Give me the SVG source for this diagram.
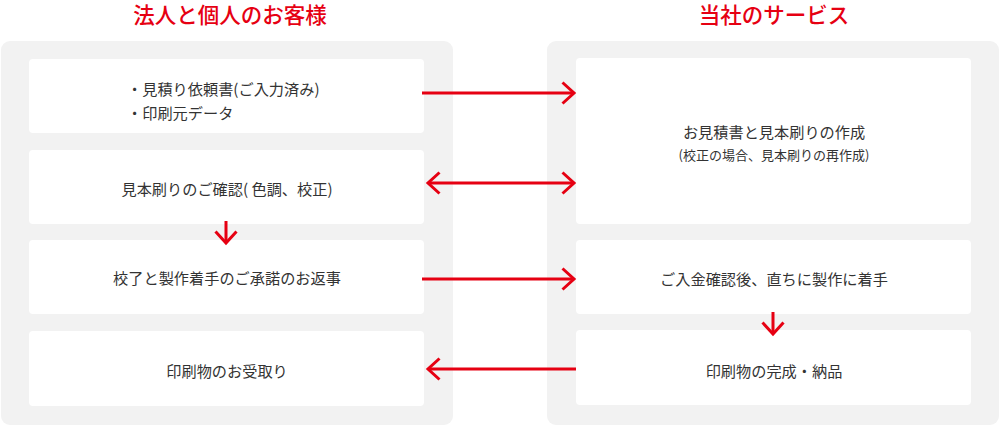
<svg xmlns="http://www.w3.org/2000/svg" width="1000" height="426" viewBox="0 0 1000 426">
<style>
.panel{fill:#f2f2f2}
.box{fill:#ffffff}
.title{font-family:"Noto Sans CJK JP","Noto Sans",sans-serif;font-size:21.5px;font-weight:500;fill:#e60012;text-anchor:middle;dominant-baseline:central}
.t{font-family:"Noto Sans CJK JP","Noto Sans",sans-serif;font-size:15.2px;fill:#333;text-anchor:middle;dominant-baseline:central}
.ts{font-family:"Noto Sans CJK JP","Noto Sans",sans-serif;font-size:13px;fill:#333;text-anchor:middle;dominant-baseline:central}
.tl{text-anchor:start}
.c{fill:none;stroke:#e60012;stroke-width:3}
</style>
<defs>
<marker id="ah" viewBox="-15 -15 30 30" markerWidth="30" markerHeight="30" refX="0" refY="0" markerUnits="userSpaceOnUse" orient="auto-start-reverse" overflow="visible">
<path d="M-11.5,-10.5 L0,0 L-11.5,10.5" fill="none" stroke="#e60012" stroke-width="3"/>
</marker>
</defs>
<rect class="panel" x="1" y="41" width="452" height="384" rx="9"/>
<rect class="panel" x="547" y="41" width="452" height="384" rx="9"/>
<text class="title" x="230" y="13.5">法人と個人のお客様</text>
<text class="title" x="774" y="13.5">当社のサービス</text>
<g id="n1"><rect class="box" x="29" y="59" width="395" height="74" rx="4"/>
<text class="t tl" x="127" y="88">・見積り依頼書(ご入力済み)</text>
<text class="t tl" x="127" y="112">・印刷元データ</text></g>
<g id="n2"><rect class="box" x="29" y="150" width="395" height="74" rx="4"/>
<text class="t" x="227" y="188">見本刷りのご確認( 色調、校正)</text></g>
<g id="n3"><rect class="box" x="29" y="240" width="395" height="74" rx="4"/>
<text class="t" x="227" y="277">校了と製作着手のご承諾のお返事</text></g>
<g id="n4"><rect class="box" x="29" y="331" width="395" height="75" rx="4"/>
<text class="t" x="227" y="370">印刷物のお受取り</text></g>
<g id="n5"><rect class="box" x="576" y="58" width="395" height="166" rx="4"/>
<text class="t" x="774" y="131">お見積書と見本刷りの作成</text>
<text class="ts" x="774" y="154">(校正の場合、見本刷りの再作成)</text></g>
<g id="n6"><rect class="box" x="576" y="240" width="395" height="74" rx="4"/>
<text class="t" x="774" y="278">ご入金確認後、直ちに製作に着手</text></g>
<g id="n7"><rect class="box" x="576" y="330" width="395" height="75" rx="4"/>
<text class="t" x="774" y="370">印刷物の完成・納品</text></g>
<g id="connectors">
<path class="c" d="M422,93 H574" marker-end="url(#ah)"/>
<path class="c" d="M428,183 H574" marker-start="url(#ah)" marker-end="url(#ah)"/>
<path class="c" d="M226,221 V243" marker-end="url(#ah)"/>
<path class="c" d="M422,279 H574" marker-end="url(#ah)"/>
<path class="c" d="M773,312 V334" marker-end="url(#ah)"/>
<path class="c" d="M576,369 H428" marker-end="url(#ah)"/>
</g>
</svg>
